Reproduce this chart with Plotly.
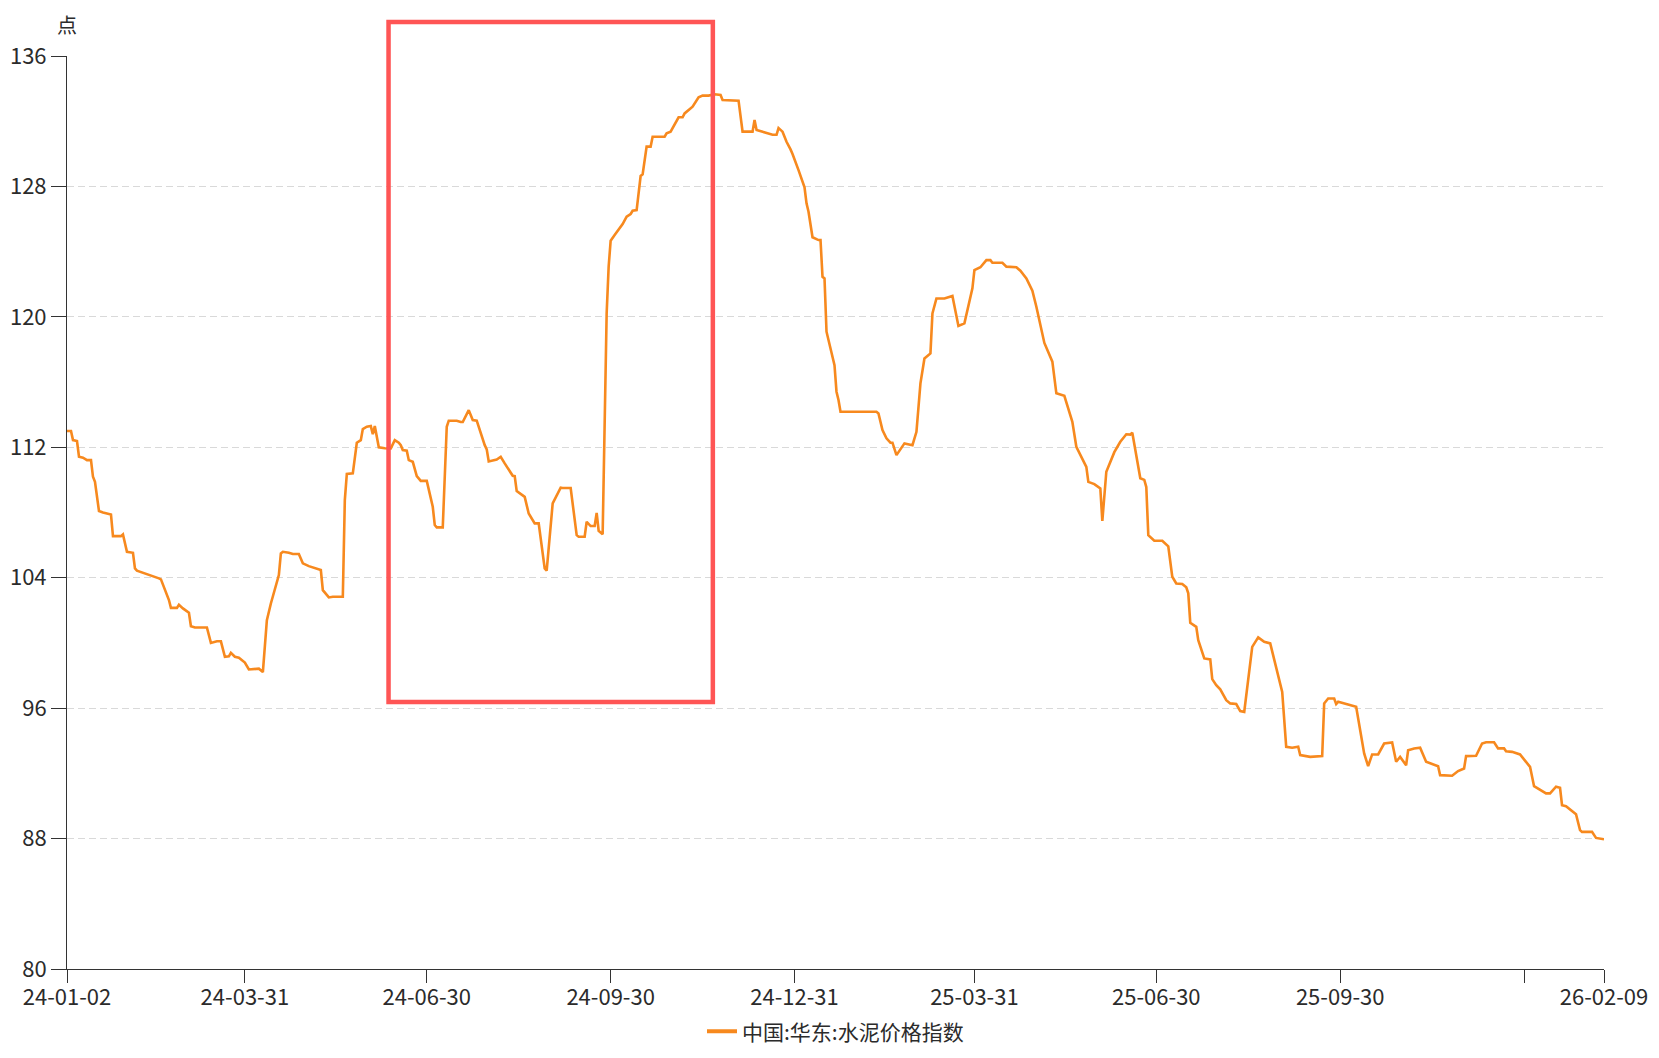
import plotly.graph_objects as go

series_name = "中国:华东:水泥价格指数"
y_unit = "点"

dates = [
    "2024-01-02", "2024-01-04", "2024-01-05", "2024-01-07", "2024-01-08", "2024-01-10", "2024-01-12", "2024-01-14",
    "2024-01-15", "2024-01-16", "2024-01-18", "2024-01-20", "2024-01-24", "2024-01-25", "2024-01-29", "2024-01-30",
    "2024-02-01", "2024-02-04", "2024-02-05", "2024-02-06", "2024-02-17", "2024-02-18", "2024-02-22", "2024-02-23",
    "2024-02-26", "2024-02-27", "2024-02-29", "2024-03-03", "2024-03-04", "2024-03-06", "2024-03-12", "2024-03-14",
    "2024-03-17", "2024-03-19", "2024-03-21", "2024-03-23", "2024-03-24", "2024-03-26", "2024-03-28", "2024-03-31",
    "2024-04-02", "2024-04-04", "2024-04-07", "2024-04-09", "2024-04-11", "2024-04-13", "2024-04-17", "2024-04-18",
    "2024-04-19", "2024-04-22", "2024-04-24", "2024-04-27", "2024-04-29", "2024-05-02", "2024-05-07", "2024-05-08",
    "2024-05-09", "2024-05-12", "2024-05-14", "2024-05-19", "2024-05-20", "2024-05-21", "2024-05-24", "2024-05-26",
    "2024-05-28", "2024-05-29", "2024-05-31", "2024-06-02", "2024-06-03", "2024-06-04", "2024-06-06", "2024-06-09",
    "2024-06-12", "2024-06-14", "2024-06-16", "2024-06-17", "2024-06-18", "2024-06-20", "2024-06-21", "2024-06-23",
    "2024-06-25", "2024-06-27", "2024-06-30", "2024-07-03", "2024-07-04", "2024-07-05", "2024-07-08", "2024-07-10",
    "2024-07-11", "2024-07-15", "2024-07-17", "2024-07-18", "2024-07-21", "2024-07-23", "2024-07-25", "2024-07-27",
    "2024-07-29", "2024-07-30", "2024-07-31", "2024-08-04", "2024-08-06", "2024-08-08", "2024-08-12", "2024-08-13",
    "2024-08-14", "2024-08-18", "2024-08-20", "2024-08-23", "2024-08-25", "2024-08-28", "2024-08-29", "2024-09-01",
    "2024-09-03", "2024-09-05", "2024-09-06", "2024-09-10", "2024-09-13", "2024-09-14", "2024-09-17", "2024-09-18",
    "2024-09-20", "2024-09-22", "2024-09-23", "2024-09-24", "2024-09-26", "2024-09-28", "2024-09-29", "2024-09-30",
    "2024-10-02", "2024-10-06", "2024-10-08", "2024-10-10", "2024-10-11", "2024-10-13", "2024-10-15", "2024-10-16",
    "2024-10-18", "2024-10-20", "2024-10-21", "2024-10-27", "2024-10-28", "2024-10-30", "2024-11-03", "2024-11-05",
    "2024-11-06", "2024-11-10", "2024-11-13", "2024-11-15", "2024-11-18", "2024-11-21", "2024-11-24", "2024-11-25",
    "2024-12-03", "2024-12-05", "2024-12-10", "2024-12-11", "2024-12-12", "2024-12-16", "2024-12-20", "2024-12-22",
    "2024-12-23", "2024-12-25", "2024-12-27", "2024-12-29", "2024-12-30",
    "2025-01-02", "2025-01-05", "2025-01-06", "2025-01-07", "2025-01-09", "2025-01-12", "2025-01-13", "2025-01-14",
    "2025-01-15", "2025-01-16", "2025-01-20", "2025-01-21", "2025-01-22", "2025-01-23", "2025-02-10", "2025-02-11",
    "2025-02-13", "2025-02-15", "2025-02-17", "2025-02-18", "2025-02-20", "2025-02-24", "2025-02-28", "2025-03-02",
    "2025-03-04", "2025-03-06", "2025-03-09", "2025-03-10", "2025-03-12", "2025-03-16", "2025-03-20", "2025-03-23",
    "2025-03-26", "2025-03-30", "2025-03-31", "2025-04-03", "2025-04-06", "2025-04-08", "2025-04-09", "2025-04-14",
    "2025-04-16", "2025-04-21", "2025-04-23", "2025-04-26", "2025-04-29", "2025-05-01", "2025-05-05", "2025-05-09",
    "2025-05-11", "2025-05-15", "2025-05-19", "2025-05-21", "2025-05-26", "2025-05-27", "2025-05-30", "2025-06-02",
    "2025-06-03", "2025-06-05", "2025-06-09", "2025-06-12", "2025-06-15", "2025-06-17", "2025-06-18", "2025-06-22",
    "2025-06-24", "2025-06-25", "2025-06-26", "2025-06-29", "2025-07-03", "2025-07-06", "2025-07-08", "2025-07-10",
    "2025-07-13", "2025-07-15", "2025-07-16", "2025-07-17", "2025-07-20", "2025-07-21", "2025-07-24", "2025-07-27",
    "2025-07-28", "2025-07-30", "2025-08-01", "2025-08-04", "2025-08-06", "2025-08-09", "2025-08-11", "2025-08-13",
    "2025-08-17", "2025-08-20", "2025-08-23", "2025-08-26", "2025-09-01", "2025-09-03", "2025-09-06", "2025-09-09",
    "2025-09-10", "2025-09-15", "2025-09-21", "2025-09-22", "2025-09-24", "2025-09-27", "2025-09-28", "2025-09-29",
    "2025-10-08", "2025-10-12", "2025-10-14", "2025-10-16", "2025-10-19", "2025-10-22", "2025-10-26", "2025-10-28",
    "2025-10-30", "2025-11-02", "2025-11-03", "2025-11-06", "2025-11-09", "2025-11-12", "2025-11-18", "2025-11-19",
    "2025-11-25", "2025-11-28", "2025-12-01", "2025-12-02", "2025-12-07", "2025-12-10", "2025-12-12", "2025-12-16",
    "2025-12-18", "2025-12-21", "2025-12-22", "2025-12-25", "2025-12-29", "2025-12-31",
    "2026-01-03", "2026-01-05", "2026-01-08", "2026-01-11", "2026-01-13", "2026-01-16", "2026-01-18", "2026-01-19",
    "2026-01-21", "2026-01-26", "2026-01-28", "2026-01-29", "2026-02-03", "2026-02-05", "2026-02-09",
]

values = [
    113.0, 113.0, 112.44, 112.38, 111.42, 111.36, 111.21, 111.21,
    110.19, 109.88, 108.09, 108.0, 107.88, 106.55, 106.55, 106.66,
    105.59, 105.53, 104.57, 104.43, 103.96, 103.9, 102.63, 102.15,
    102.15, 102.34, 102.12, 101.85, 101.03, 100.95, 100.95, 100.0,
    100.1, 100.1, 99.15, 99.18, 99.39, 99.15, 99.09, 98.8,
    98.37, 98.4, 98.42, 98.21, 101.4, 102.42, 104.16, 105.49,
    105.59, 105.53, 105.45, 105.45, 104.88, 104.71, 104.51, 104.47,
    103.24, 102.79, 102.83, 102.83, 108.76, 110.36, 110.4, 112.28,
    112.44, 113.12, 113.26, 113.3, 112.8, 113.3, 112.0, 111.94,
    111.93, 112.44, 112.28, 112.13, 111.83, 111.79, 111.21, 111.11,
    110.23, 109.94, 109.94, 108.35, 107.23, 107.09, 107.09, 113.26,
    113.63, 113.63, 113.55, 113.55, 114.28, 113.67, 113.63, 112.8,
    112.13, 111.87, 111.13, 111.25, 111.42, 111.01, 110.25, 110.23,
    109.31, 108.96, 107.94, 107.33, 107.33, 104.57, 104.43, 108.56,
    109.0, 109.52, 109.5, 109.5, 106.61, 106.51, 106.51, 107.43,
    107.17, 107.17, 107.98, 106.88, 106.67, 120.21, 123.08, 124.67,
    125.02, 125.69, 126.14, 126.31, 126.51, 126.55, 128.64, 128.74,
    130.44, 130.44, 131.05, 131.05, 131.26, 131.36, 132.24, 132.24,
    132.48, 132.89, 133.47, 133.57, 133.57, 133.65, 133.61, 133.3,
    133.26, 131.36, 131.36, 132.07, 131.46, 131.3, 131.17, 131.17,
    131.58, 131.36, 130.74, 130.27, 129.99,
    129.0, 127.94, 126.96, 126.45, 124.88, 124.71, 124.71, 122.46,
    122.36, 119.09, 117.04, 115.41, 114.9, 114.18, 114.18, 114.08,
    113.06, 112.55, 112.28, 112.28, 111.52, 112.24, 112.13, 112.95,
    115.92, 117.45, 117.76, 120.21, 121.13, 121.13, 121.28, 119.44,
    119.6, 121.75, 122.87, 123.04, 123.48, 123.48, 123.32, 123.32,
    123.08, 123.04, 122.83, 122.36, 121.6, 120.62, 118.4, 117.25,
    115.31, 115.16, 113.56, 112.03, 110.8, 109.88, 109.74, 109.48,
    107.48, 110.5, 111.7, 112.34, 112.8, 112.78, 112.89, 110.1,
    110.0, 109.56, 106.61, 106.27, 106.27, 105.92, 104.06, 103.65,
    103.61, 103.41, 103.04, 101.23, 100.99, 100.17, 99.05, 98.99,
    97.78, 97.41, 97.15, 96.49, 96.29, 96.25, 95.82, 95.77,
    99.76, 100.34, 100.07, 99.97, 97.0, 93.63, 93.57, 93.63,
    93.12, 93.01, 93.06, 96.29, 96.59, 96.59, 96.25, 96.39,
    96.08, 93.22, 92.44, 93.16, 93.16, 93.83, 93.89, 92.71,
    93.01, 92.5, 93.42, 93.53, 93.57, 92.71, 92.44, 91.89,
    91.85, 92.14, 92.3, 93.06, 93.08, 93.83, 93.91, 93.91,
    93.53, 93.53, 93.36, 93.32, 93.16, 92.87,
    92.4, 91.21, 90.97, 90.77, 90.77, 91.18, 91.11, 90.05,
    89.99, 89.5, 88.52, 88.41, 88.41, 88.04, 87.96,
]

x_tick_dates = ["2024-01-02", "2024-03-31", "2024-06-30", "2024-09-30", "2024-12-31",
                "2025-03-31", "2025-06-30", "2025-09-30", "2025-12-31", "2026-02-09"]
x_tick_labels = ["24-01-02", "24-03-31", "24-06-30", "24-09-30", "24-12-31",
                 "25-03-31", "25-06-30", "25-09-30", "", "26-02-09"]
y_ticks = [80, 88, 96, 104, 112, 120, 128, 136]
x_range = ["2024-01-02", "2026-02-09"]
y_range = [80, 136]

FONT = "Noto Sans CJK SC, Noto Sans, sans-serif"
LINE_COLOR = "#F7891E"
TEXT_COLOR = "#2B2B2B"

fig = go.Figure()
fig.add_trace(go.Scatter(
    x=dates, y=values, mode="lines", name=series_name, showlegend=False,
    line=dict(color=LINE_COLOR, width=2.6),
))
# legend-only entry (no data points) so the legend swatch is drawn thicker
fig.add_trace(go.Scatter(
    x=[None], y=[None], mode="lines", name=series_name, showlegend=True,
    line=dict(color=LINE_COLOR, width=4), hoverinfo="skip",
))

fig.update_layout(
    width=1659, height=1058,
    margin=dict(l=59, r=63, t=48, b=97, pad=0, autoexpand=False),
    paper_bgcolor="white", plot_bgcolor="white",
    font=dict(family=FONT, size=21, color=TEXT_COLOR),
    showlegend=True,
    legend=dict(orientation="h", x=0.5, xanchor="center", y=-0.0687, yanchor="middle",
                font=dict(size=21, color=TEXT_COLOR), bgcolor="rgba(0,0,0,0)"),
    xaxis=dict(
        type="date", range=x_range, tickmode="array", tickvals=x_tick_dates, ticktext=x_tick_labels,
        showgrid=False, zeroline=False, showline=True, linecolor="#333333", linewidth=1,
        ticks="outside", ticklen=13, tickcolor="#333333", tickwidth=1, automargin=False,
        ticklabelstandoff=-4,
        tickfont=dict(size=22, color=TEXT_COLOR, family=FONT),
    ),
    yaxis=dict(
        range=y_range, tickmode="array", tickvals=y_ticks,
        showgrid=True, gridcolor="#D9D9D9", griddash="7px,4px", gridwidth=1,
        zeroline=False, showline=True, linecolor="#333333", linewidth=1,
        ticks="outside", ticklen=15, tickcolor="#333333", tickwidth=1, automargin=False,
        tickfont=dict(size=22, color=TEXT_COLOR, family=FONT),
    ),
    annotations=[dict(
        text=y_unit, xref="paper", yref="paper", x=0.0, y=1.035,
        xanchor="center", yanchor="middle", showarrow=False,
        font=dict(size=20, color=TEXT_COLOR, family=FONT),
    )],
    shapes=[dict(
        type="rect", xref="paper", yref="paper",
        x0=0.2092, x1=0.4202, y0=0.2924, y1=1.0372,
        line=dict(color="#FF5555", width=4.5), fillcolor="rgba(0,0,0,0)",
    )],
)

fig.write_html("out.html")
